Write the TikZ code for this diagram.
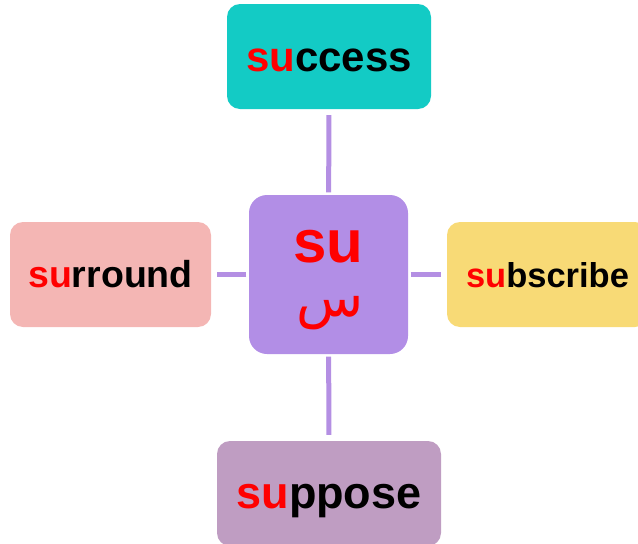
\documentclass[tikz,border=0pt]{standalone}
\usepackage{fontspec}
\setmainfont{Liberation Sans}
\newfontfamily\arabicfont[Script=Arabic]{DejaVu Sans}
\TeXXeTstate=1
\definecolor{teal1}{HTML}{13CBC5}
\definecolor{pink1}{HTML}{F4B6B4}
\definecolor{purple1}{HTML}{B28EE6}
\definecolor{yellow1}{HTML}{F8DA76}
\definecolor{mauve1}{HTML}{BF9DC2}
\definecolor{line1}{HTML}{B48FE3}
\tikzset{
  box/.style={rounded corners=13pt, inner sep=0pt, draw=none},
  word/.style={anchor=base, inner sep=0pt, font=\bfseries},
  conn/.style={line width=5pt, draw=line1, shorten <=2.5pt, shorten >=6pt},
}
\newcommand{\rd}[1]{\textcolor{red}{#1}}
\begin{document}
\begin{tikzpicture}[x=1pt,y=-1pt]
\useasboundingbox (0,0) rectangle (638,544);
% boxes
\node[box, fill=purple1, rounded corners=18pt, minimum width=159pt, minimum height=159pt] (c) at (328.5,274.5) {};
\node[box, fill=teal1, minimum width=204pt, minimum height=105pt] (t) at (329,56.5) {};
\node[box, fill=pink1, minimum width=201pt, minimum height=105pt] (l) at (110.5,274.5) {};
\node[box, fill=yellow1, minimum width=201pt, minimum height=105pt] (r) at (547.5,274.5) {};
\node[box, fill=mauve1, minimum width=224pt, minimum height=105pt] (b) at (329,493.5) {};
% connectors
\draw[conn] (c) -- (t);
\draw[conn] (c) -- (l);
\draw[conn] (c) -- (r);
\draw[conn] (c) -- (b);
% texts
\node[word, font=\bfseries\fontsize{42}{42}\selectfont] (tt) at (329,71) {\rd{su}ccess};
\node[word, font=\bfseries\fontsize{37.5}{37.5}\selectfont] (lt) at (110.5,287) {\rd{su}rround};
\node[word, font=\bfseries\fontsize{34.5}{34.5}\selectfont] (rt) at (547.5,287) {\rd{su}bscribe};
\node[word, font=\bfseries\fontsize{45}{45}\selectfont] (bt) at (329,508) {\rd{su}ppose};
\node[word, font=\bfseries\fontsize{60}{60}\selectfont] (ct) at (328.5,262) {\rd{su}};
\node[inner sep=0pt, text=red, font=\arabicfont\fontsize{55}{55}\selectfont] (ca) at (330,313) {\beginR س\endR};
\end{tikzpicture}
\end{document}
